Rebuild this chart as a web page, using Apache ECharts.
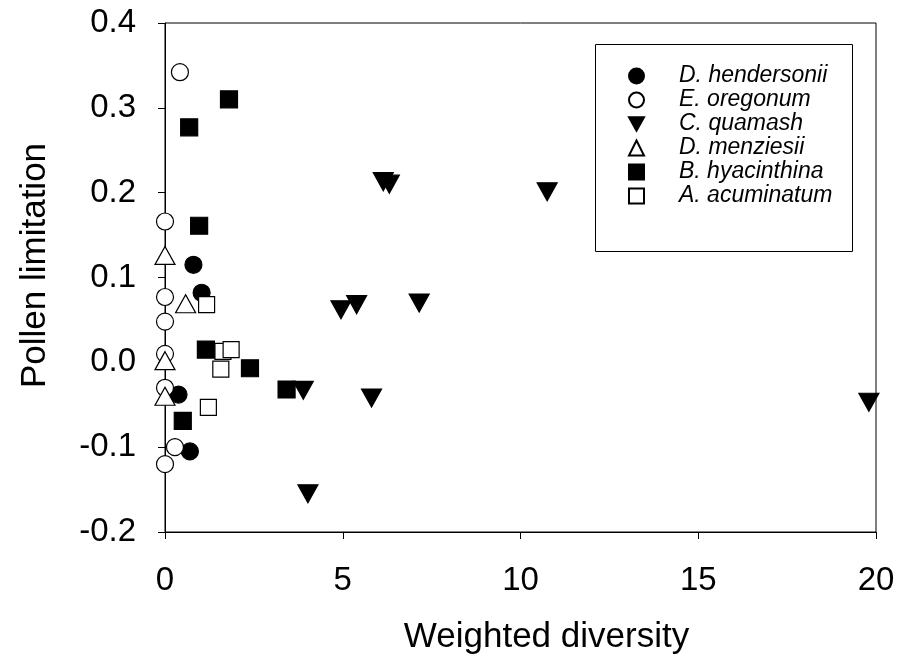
<!DOCTYPE html>
<html>
<head>
<meta charset="utf-8">
<script src="https://cdn.jsdelivr.net/npm/echarts@6/dist/echarts.min.js"></script>
<style>
  html, body { margin: 0; padding: 0; background: #fff; }
  #main { width: 902px; height: 671px; }
</style>
</head>
<body>
<div id="main"></div>
<script>
// data: [weighted diversity, pollen limitation]
var hendersonii = [[0.80, 0.115], [1.03, 0.082], [0.38, -0.038], [0.70, -0.105]];
var oregonum = [[0.42, 0.342], [0, 0.166], [0, 0.077], [0, 0.048], [0, 0.010], [0, -0.030], [0.28, -0.100], [0, -0.120]];
var quamash = [[6.14, 0.213], [6.31, 0.210], [10.75, 0.201], [4.95, 0.062], [5.39, 0.068], [7.15, 0.070],
               [3.89, -0.033], [5.81, -0.042], [4.02, -0.155], [19.80, -0.047]];
var menziesii = [[0, 0.126], [0.58, 0.069], [0, 0.002], [0, -0.040]];
var hyacinthina = [[1.80, 0.310], [0.68, 0.277], [0.96, 0.161], [1.15, 0.015], [2.39, -0.007], [3.42, -0.032], [0.50, -0.069]];
var acuminatum = [[1.17, 0.068], [1.63, 0.013], [1.86, 0.015], [1.57, -0.008], [1.22, -0.053]];

var xTicks = [0, 5, 10, 15, 20];
var yTicks = [-0.2, -0.1, 0.0, 0.1, 0.2, 0.3, 0.4];

var font = "'Liberation Sans', Arial, sans-serif";
var downTriangle = 'path://M0,0L20,0L10,18Z';

var myChart = echarts.init(document.getElementById('main'), null, {renderer: 'canvas'});

function ser(name, data, symbol, size, filled) {
    return {
        name: name,
        type: 'scatter',
        data: data,
        symbol: symbol,
        symbolSize: size,
        itemStyle: {
            color: filled ? '#000' : '#fff',
            borderColor: '#000',
            borderWidth: 1.2,
            opacity: 1
        },
        emphasis: {disabled: true}
    };
}

myChart.setOption({
    animation: false,
    backgroundColor: '#fff',
    textStyle: {fontFamily: font},
    grid: {
        left: 165, right: 26, top: 23, bottom: 139,
        show: true, borderColor: '#000', borderWidth: 1
    },
    //legend frame
    graphic: [{
        type: 'rect',
        shape: {x: 595.5, y: 44.5, width: 257, height: 207},
        style: {fill: 'none', stroke: '#000', lineWidth: 1},
        z: 1
    }],
    legend: {
        orient: 'vertical',
        left: 628, top: 64,
        padding: 0,
        itemGap: 0,
        itemWidth: 15, itemHeight: 15,
        symbolKeepAspect: true,
        textStyle: {
            fontFamily: font, fontStyle: 'italic', fontSize: 23, color: '#000',
            lineHeight: 24, padding: [0, 0, 0, 30]
        },
        selectedMode: false
    },
    xAxis: {
        type: 'value',
        min: xTicks[0], max: xTicks[xTicks.length - 1], interval: 5,
        name: 'Weighted diversity',
        nameLocation: 'middle',
        nameGap: 88,
        nameTextStyle: {fontSize: 35, color: '#000', fontFamily: font, padding: [0, 0, 0, 52]},
        axisLine: {onZero: false, lineStyle: {color: '#000', width: 1}},
        axisTick: {length: 7, lineStyle: {color: '#000'}},
        axisLabel: {fontSize: 33, color: '#000', margin: 32, fontFamily: font},
        splitLine: {show: false}
    },
    yAxis: {
        type: 'value',
        min: yTicks[0], max: yTicks[yTicks.length - 1], interval: 0.1,
        name: 'Pollen limitation',
        nameLocation: 'middle',
        nameGap: 112,
        nameTextStyle: {fontSize: 35, color: '#000', fontFamily: font, padding: [0, 0, 0, 24]},
        axisLine: {show: true, onZero: false, lineStyle: {color: '#000', width: 1}},
        axisTick: {show: true, length: 7, lineStyle: {color: '#000'}},
        axisLabel: {
            fontSize: 33, color: '#000', margin: 29, fontFamily: font,
            formatter: function (v) { return v.toFixed(1); }
        },
        splitLine: {show: false}
    },
    series: [
        ser('D. hendersonii', hendersonii, 'circle', 17, true),
        ser('E. oregonum', oregonum, 'circle', 17, false),
        ser('C. quamash', quamash, downTriangle, [20, 18], true),
        ser('D. menziesii', menziesii, 'triangle', [20, 18], false),
        ser('B. hyacinthina', hyacinthina, 'rect', 17, true),
        ser('A. acuminatum', acuminatum, 'rect', 16, false)
    ]
});
</script>
</body>
</html>
